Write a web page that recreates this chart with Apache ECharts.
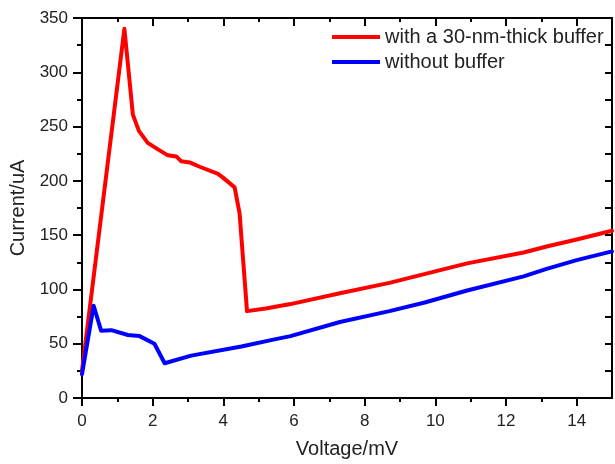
<!DOCTYPE html>
<html>
<head>
<meta charset="utf-8">
<script src="https://cdn.jsdelivr.net/npm/echarts@6/dist/echarts.min.js"></script>
<style>html,body{margin:0;padding:0;background:#fff}#c{width:615px;height:464px}</style>
</head>
<body>
<div id="c"></div>
<script>
const seriesNames = ['with a 30-nm-thick buffer', 'without buffer'];
const voltRed = [0, 1.2, 1.44, 1.61, 1.86, 2.15, 2.43, 2.67, 2.81, 3.05, 3.33, 3.85, 3.99, 4.32, 4.46, 4.67, 5.2, 5.9, 7.3, 8.7, 9.8, 10.9, 12.5, 13.15, 14.0, 15.0];
const currRed = [25, 340, 261, 246, 235, 229, 223.5, 222.5, 218, 217, 213, 206.5, 203, 194, 170, 80, 82.5, 86.5, 96.5, 106, 115, 124, 134, 139.5, 146, 154];
const voltBlue = [0, 0.33, 0.54, 0.83, 1.3, 1.63, 2.05, 2.34, 3.09, 4.51, 5.45, 5.9, 7.3, 8.7, 9.7, 10.9, 12.5, 13.15, 14.0, 15.0];
const currBlue = [22, 85, 62, 62.5, 58, 57, 50, 32, 39, 47.5, 54, 57, 70, 80, 88, 99, 112, 119, 127, 135];
const xMajorTicks = [0, 2, 4, 6, 8, 10, 12, 14];
const xMinorTicks = [1, 3, 5, 7, 9, 11, 13];

const pairs = (xs, ys) => xs.map((x, i) => [x, ys[i]]);
const font = 'Liberation Sans, Arial, sans-serif';
const black = '#000';
const txt = '#222';

const chart = echarts.init(document.getElementById('c'), null, {renderer: 'canvas'});
const baseX = {type: 'value', min: 0, max: 15, splitLine: {show: false}};
chart.setOption({
  animation: false,
  backgroundColor: '#fff',
  grid: {left: 82, right: 3, top: 18, bottom: 65, containLabel: false},
  legend: {
    data: seriesNames, orient: 'vertical', left: 332, top: 26, padding: 0,
    icon: 'rect', itemWidth: 48, itemHeight: 4, itemGap: 3,
    textStyle: {fontFamily: font, fontSize: 20, color: txt, lineHeight: 22}
  },
  xAxis: [
    Object.assign({}, baseX, {
      position: 'bottom',
      name: 'Voltage/mV', nameLocation: 'middle', nameGap: 41,
      nameTextStyle: {fontFamily: font, fontSize: 20, color: txt},
      axisLine: {show: true, onZero: false, lineStyle: {color: black, width: 2}},
      axisTick: {show: true, customValues: xMajorTicks, length: 8, lineStyle: {color: black, width: 2}},
      axisLabel: {customValues: xMajorTicks, margin: 15, fontFamily: font, fontSize: 17, color: txt}
    }),
    Object.assign({}, baseX, {
      position: 'bottom',
      axisLine: {show: false, onZero: false},
      axisTick: {show: true, customValues: xMinorTicks, length: 4, lineStyle: {color: black, width: 2}},
      axisLabel: {show: false}
    }),
    Object.assign({}, baseX, {
      position: 'top',
      axisLine: {show: true, onZero: false, lineStyle: {color: black, width: 2}},
      axisTick: {show: true, inside: true, customValues: xMajorTicks, length: 8, lineStyle: {color: black, width: 2}},
      axisLabel: {show: false}
    }),
    Object.assign({}, baseX, {
      position: 'top',
      axisLine: {show: false, onZero: false},
      axisTick: {show: true, inside: true, customValues: xMinorTicks, length: 4, lineStyle: {color: black, width: 2}},
      axisLabel: {show: false}
    })
  ],
  yAxis: [
    {
      type: 'value', min: 0, max: 350, interval: 50, position: 'left',
      name: 'Current/uA', nameLocation: 'middle', nameGap: 43,
      nameTextStyle: {fontFamily: font, fontSize: 20, color: txt},
      splitLine: {show: false},
      axisLine: {show: true, onZero: false, lineStyle: {color: black, width: 2}},
      axisTick: {show: true, length: 9, lineStyle: {color: black, width: 2}},
      minorTick: {show: true, splitNumber: 2, length: 5, lineStyle: {color: black, width: 2}},
      axisLabel: {margin: 14, fontFamily: font, fontSize: 17, color: txt}
    },
    {
      type: 'value', min: 0, max: 350, interval: 25, position: 'right',
      splitLine: {show: false},
      axisLine: {show: true, onZero: false, lineStyle: {color: black, width: 2}},
      axisTick: {show: true, inside: true, length: 7, lineStyle: {color: black, width: 2}},
      axisLabel: {show: false}
    }
  ],
  series: [
    {
      name: seriesNames[0], type: 'line', xAxisIndex: 0, yAxisIndex: 0,
      data: pairs(voltRed, currRed), showSymbol: false, symbol: 'none',
      lineStyle: {color: '#ff0000', width: 4, join: 'round', cap: 'round'},
      itemStyle: {color: '#ff0000'}
    },
    {
      name: seriesNames[1], type: 'line', xAxisIndex: 0, yAxisIndex: 0,
      data: pairs(voltBlue, currBlue), showSymbol: false, symbol: 'none',
      lineStyle: {color: '#0000ff', width: 4, join: 'round', cap: 'round'},
      itemStyle: {color: '#0000ff'}
    }
  ]
});
</script>
</body>
</html>
